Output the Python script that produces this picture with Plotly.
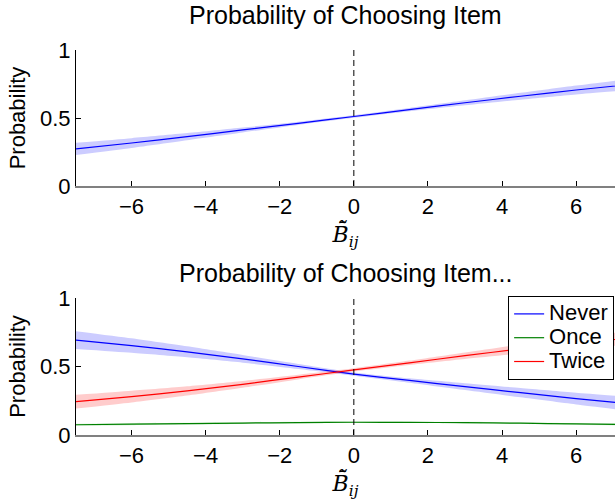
import plotly.graph_objects as go
from plotly.subplots import make_subplots

# ---- data ----
x_vals = [-7.5, -6, -4.5, -3, -1.5, 0, 1.5, 3, 4.5, 6, 7.5]

item_mean = [0.273, 0.316, 0.363, 0.412, 0.461, 0.511, 0.562, 0.612, 0.660, 0.706, 0.748]
item_half = [0.045, 0.036, 0.026, 0.018, 0.012, 0.010, 0.012, 0.018, 0.025, 0.033, 0.042]

never_mean = [0.693, 0.653, 0.607, 0.556, 0.500, 0.445, 0.398, 0.353, 0.309, 0.266, 0.226]
never_half = [0.065, 0.053, 0.040, 0.028, 0.018, 0.012, 0.016, 0.025, 0.034, 0.043, 0.052]

once_mean = [0.075, 0.079, 0.083, 0.087, 0.091, 0.093, 0.092, 0.090, 0.086, 0.081, 0.076]
once_half = [0.008, 0.007, 0.006, 0.006, 0.005, 0.005, 0.005, 0.006, 0.006, 0.007, 0.008]

twice_mean = [0.243, 0.280, 0.322, 0.370, 0.423, 0.475, 0.527, 0.579, 0.628, 0.671, 0.710]
twice_half = [0.050, 0.043, 0.034, 0.025, 0.017, 0.012, 0.016, 0.024, 0.033, 0.042, 0.050]

x_ticks = [-6, -4, -2, 0, 2, 4, 6]
y_ticks = [0, 0.5, 1]

titles = ["Probability of Choosing Item", "Probability of Choosing Item..."]
legend_names = ["Never", "Once", "Twice"]

FONT = "Liberation Sans, Arial, Helvetica, sans-serif"

fig = make_subplots(rows=2, cols=1, vertical_spacing=0.2)


def add_series(row, mean, half, line_color, band_color, name, show):
    lower = [m - h for m, h in zip(mean, half)]
    upper = [m + h for m, h in zip(mean, half)]
    fig.add_trace(go.Scatter(x=x_vals, y=lower, mode="lines",
                             line=dict(width=0, shape="spline", smoothing=0.6),
                             showlegend=False, hoverinfo="skip"), row=row, col=1)
    fig.add_trace(go.Scatter(x=x_vals, y=upper, mode="lines", fill="tonexty",
                             fillcolor=band_color,
                             line=dict(width=0, shape="spline", smoothing=0.6),
                             showlegend=False, hoverinfo="skip"), row=row, col=1)
    label = "<span style='font-size:22px'>%s</span>" % name
    fig.add_trace(go.Scatter(x=x_vals, y=mean, mode="lines", name=label,
                             line=dict(color=line_color, width=1.2, shape="spline", smoothing=0.6),
                             showlegend=show), row=row, col=1)


add_series(1, item_mean, item_half, "#0000ff", "rgba(0,0,255,0.2)", "Item", False)
add_series(2, never_mean, never_half, "#0000ff", "rgba(0,0,255,0.2)", legend_names[0], True)
add_series(2, once_mean, once_half, "#008000", "rgba(0,160,0,0.15)", legend_names[1], True)
add_series(2, twice_mean, twice_half, "#ff0000", "rgba(255,0,0,0.2)", legend_names[2], True)

W, H = 615, 502
top_dom = [1 - 186 / H, 1 - 50 / H]
bot_dom = [1 - 435 / H, 1 - 298 / H]

xlabel = "<i>B\u0304\u0303</i><sub><i>ij</i></sub>"

for r, dom in ((1, top_dom), (2, bot_dom)):
    xa = "xaxis" if r == 1 else "xaxis2"
    ya = "yaxis" if r == 1 else "yaxis2"
    fig.layout[xa].update(
        range=[-7.5, 7.05], tickvals=x_ticks, ticks="inside", ticklen=5,
        tickcolor="#000000", showline=True, linecolor="#808080", linewidth=1.5,
        showgrid=False, zeroline=False, automargin=False,
        tickfont=dict(size=22, family=FONT, color="black"),
        title=dict(text=xlabel, font=dict(size=22, family="DejaVu Serif, serif", color="black"),
                   standoff=2),
        domain=[0, 1],
    )
    fig.layout[ya].update(
        range=[0, 1], tickvals=y_ticks, ticktext=["0", "0.5", "1"], ticks="inside", ticklen=5,
        tickcolor="#000000", showline=True, linecolor="#000000", linewidth=1,
        showgrid=False, zeroline=False, automargin=False,
        tickfont=dict(size=22, family=FONT, color="black"),
        title=dict(text="Probability", font=dict(size=22, family=FONT, color="black"), standoff=8),
        domain=dom,
    )
    xref = "x" if r == 1 else "x2"
    yref = "y" if r == 1 else "y2"
    fig.add_shape(type="line", xref=xref, yref=yref, x0=0, x1=0, y0=0, y1=1,
                  line=dict(color="black", width=1, dash="6px,4px"))

fig.add_annotation(text=titles[0], xref="paper", yref="paper", x=0.5, y=1 - 15 / H,
                   xanchor="center", yanchor="middle", showarrow=False,
                   font=dict(size=25, family=FONT, color="black"))
fig.add_annotation(text=titles[1], xref="paper", yref="paper", x=0.5, y=1 - 273 / H,
                   xanchor="center", yanchor="middle", showarrow=False,
                   font=dict(size=25, family=FONT, color="black"))

fig.update_layout(
    width=W, height=H, margin=dict(l=76, r=0, t=0, b=0, autoexpand=False),
    plot_bgcolor="white", paper_bgcolor="white",
    legend=dict(x=614 / W, y=1 - 296 / H, xanchor="right", yanchor="top",
                bgcolor="white", bordercolor="black", borderwidth=1,
                font=dict(size=16, family=FONT, color="black"),
                traceorder="normal", tracegroupgap=0, itemwidth=30),
    showlegend=True,
)

fig.write_html("out.html", config={"displayModeBar": False},
               post_script="document.body.style.margin='0';document.body.style.padding='0';")
